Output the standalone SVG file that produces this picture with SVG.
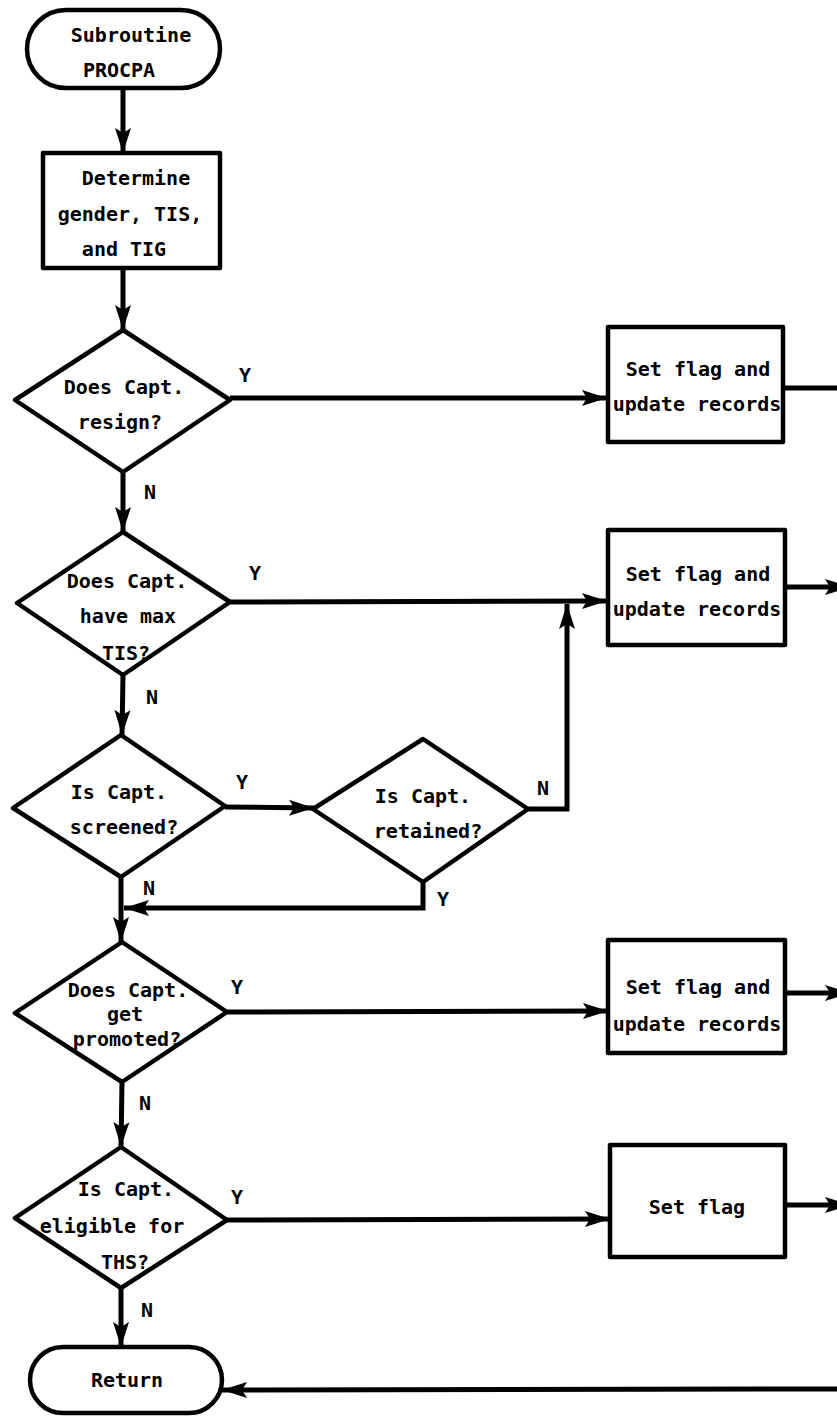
<svg xmlns="http://www.w3.org/2000/svg" width="837" height="1420" viewBox="0 0 837 1420">
<defs>
<marker id="ah" markerUnits="userSpaceOnUse" markerWidth="28" markerHeight="18" refX="25" refY="8" orient="auto" overflow="visible">
<path d="M0,0 L25,8 L0,16 L5,8 z" fill="#000"/>
</marker>
<style>
.shape{fill:#fff;stroke:#000;stroke-width:4.5;stroke-linejoin:round}
.conn{fill:none;stroke:#000;stroke-width:5;stroke-linejoin:miter}
.arr{marker-end:url(#ah)}
text{font-family:"DejaVu Sans Mono","Liberation Mono",monospace;font-weight:bold;font-size:20px;fill:#000;text-anchor:middle}
</style>
</defs>
<rect width="837" height="1420" fill="#fff"/>

<g id="connectors">
<path class="conn arr" d="M123,88 L123,153"/>
<path class="conn arr" d="M123,268 L123,330"/>
<path class="conn arr" d="M230,398 L607,398"/>
<path class="conn" d="M783,388 L837,388"/>
<path class="conn arr" d="M123,472 L123,532"/>
<path class="conn arr" d="M230,602 L607,601"/>
<path class="conn arr" d="M785,587 L850,587"/>
<path class="conn arr" d="M123,675 L122,735"/>
<path class="conn arr" d="M225,807 L314,808"/>
<path class="conn arr" d="M528,809 L567,809 L567,604"/>
<path class="conn arr" d="M423,882 L423,908 L124,908"/>
<path class="conn arr" d="M121,877 L121,942"/>
<path class="conn arr" d="M227,1012 L608,1011"/>
<path class="conn arr" d="M785,993 L850,993"/>
<path class="conn arr" d="M122,1082 L121,1147"/>
<path class="conn arr" d="M227,1220 L610,1219"/>
<path class="conn arr" d="M785,1205 L850,1205"/>
<path class="conn arr" d="M121,1288 L121,1347"/>
<path class="conn arr" d="M837,1389 L222,1390"/>
<text x="245" y="382">Y</text>
<text x="150" y="499">N</text>
<text x="255" y="580">Y</text>
<text x="152" y="704">N</text>
<text x="242" y="789">Y</text>
<text x="543" y="795">N</text>
<text x="443" y="906">Y</text>
<text x="149" y="895">N</text>
<text x="237" y="994">Y</text>
<text x="145" y="1110">N</text>
<text x="237" y="1204">Y</text>
<text x="147" y="1317">N</text>
</g>

<g id="start">
<rect class="shape" x="27" y="10" width="193" height="78" rx="39" ry="39"/>
<text x="131" y="42">Subroutine</text>
<text x="119" y="77">PROCPA</text>
</g>

<g id="determine">
<rect class="shape" x="43" y="153" width="177" height="115"/>
<text x="136" y="185">Determine</text>
<text x="130" y="221">gender, TIS,</text>
<text x="124" y="256">and TIG</text>
</g>

<g id="d-resign">
<polygon class="shape" points="123,330 230,400 123,472 15,400"/>
<text x="124" y="394">Does Capt.</text>
<text x="120" y="429">resign?</text>
</g>

<g id="b-resign">
<rect class="shape" x="608" y="327" width="175" height="115"/>
<text x="698" y="376">Set flag and</text>
<text x="697" y="411">update records</text>
</g>

<g id="d-maxtis">
<polygon class="shape" points="123,532 230,602 123,675 17,603"/>
<text x="127" y="588">Does Capt.</text>
<text x="128" y="623">have max</text>
<text x="126" y="660">TIS?</text>
</g>

<g id="b-maxtis">
<rect class="shape" x="608" y="530" width="177" height="115"/>
<text x="698" y="581">Set flag and</text>
<text x="697" y="616">update records</text>
</g>

<g id="d-screened">
<polygon class="shape" points="121,735 225,806 121,877 13,808"/>
<text x="119" y="799">Is Capt.</text>
<text x="124" y="834">screened?</text>
</g>

<g id="d-retained">
<polygon class="shape" points="423,739 528,809 423,882 313,809"/>
<text x="423" y="803">Is Capt.</text>
<text x="428" y="838">retained?</text>
</g>

<g id="d-promoted">
<polygon class="shape" points="122,942 227,1012 122,1082 15,1013"/>
<text x="128" y="997">Does Capt.</text>
<text x="125" y="1021">get</text>
<text x="127" y="1046">promoted?</text>
</g>

<g id="b-promoted">
<rect class="shape" x="608" y="940" width="177" height="113"/>
<text x="698" y="994">Set flag and</text>
<text x="697" y="1031">update records</text>
</g>

<g id="d-ths">
<polygon class="shape" points="121,1147 227,1220 121,1288 15,1218"/>
<text x="126" y="1196">Is Capt.</text>
<text x="112" y="1233">eligible for</text>
<text x="125" y="1269">THS?</text>
</g>

<g id="b-ths">
<rect class="shape" x="610" y="1145" width="175" height="112"/>
<text x="697" y="1214">Set flag</text>
</g>

<g id="return">
<rect class="shape" x="30" y="1347" width="192" height="66" rx="33" ry="33"/>
<text x="127" y="1387">Return</text>
</g>
</svg>
